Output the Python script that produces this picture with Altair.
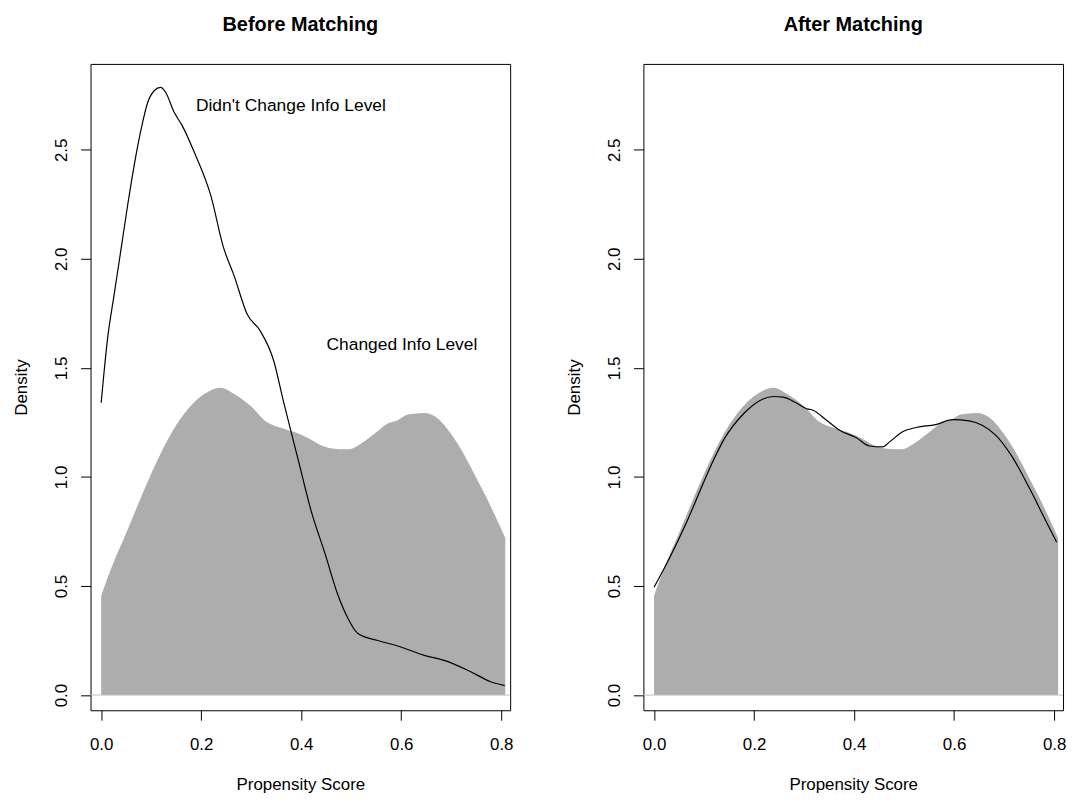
import altair as alt
import pandas as pd

FONT = "Liberation Sans"

# Treated ("Changed Info Level") density, shown as grey area in both panels
gray_x = [0.0, 0.02, 0.053, 0.086, 0.119, 0.152, 0.186, 0.212, 0.239, 0.265,
          0.298, 0.331, 0.364, 0.394, 0.421, 0.434, 0.461, 0.494, 0.520, 0.547,
          0.573, 0.593, 0.613, 0.646, 0.673, 0.699, 0.726, 0.752, 0.779, 0.808]
gray_y = [0.455, 0.58, 0.759, 0.941, 1.108, 1.245, 1.343, 1.389, 1.409, 1.382,
          1.328, 1.252, 1.222, 1.199, 1.169, 1.151, 1.131, 1.127, 1.154, 1.199,
          1.245, 1.260, 1.286, 1.293, 1.268, 1.199, 1.101, 0.987, 0.865, 0.72]

# Control density before matching
before_x = [0.0, 0.013, 0.026, 0.040, 0.053, 0.066, 0.080, 0.093, 0.106, 0.119,
            0.129, 0.146, 0.162, 0.186, 0.219, 0.245, 0.265, 0.292, 0.318, 0.345,
            0.364, 0.394, 0.421, 0.447, 0.474, 0.494, 0.514, 0.553, 0.593, 0.646,
            0.686, 0.739, 0.779, 0.807]
before_y = [1.34, 1.639, 1.837, 2.049, 2.247, 2.429, 2.596, 2.717, 2.771, 2.786,
            2.763, 2.672, 2.611, 2.490, 2.292, 2.049, 1.928, 1.746, 1.670, 1.533,
            1.351, 1.078, 0.835, 0.653, 0.455, 0.349, 0.281, 0.250, 0.225, 0.182,
            0.159, 0.107, 0.061, 0.043]

# Control density after matching
after_x = [0.0, 0.033, 0.066, 0.099, 0.119, 0.139, 0.179, 0.212, 0.239, 0.258,
           0.285, 0.305, 0.318, 0.345, 0.371, 0.404, 0.431, 0.457, 0.471, 0.497,
           0.524, 0.563, 0.597, 0.630, 0.656, 0.683, 0.716, 0.749, 0.782, 0.805]
after_y = [0.494, 0.638, 0.797, 0.975, 1.078, 1.169, 1.290, 1.351, 1.369, 1.366,
           1.339, 1.313, 1.306, 1.260, 1.214, 1.181, 1.142, 1.138, 1.161, 1.207,
           1.227, 1.240, 1.263, 1.257, 1.237, 1.192, 1.093, 0.956, 0.805, 0.701]

label_text = ["Didn't Change Info Level", "Changed Info Level"]
label_x = [0.1895, 0.4506]
label_y = [2.702, 1.605]

x_ticks = [0.0, 0.2, 0.4, 0.6, 0.8]
y_ticks = [0.0, 0.5, 1.0, 1.5, 2.0, 2.5]

W = 422
H = 650


def panel(title, lx, ly, with_labels):
    xs = alt.Scale(domain=[-0.02128, 0.8178], nice=False, zero=False)
    ys = alt.Scale(domain=[-0.0697, 2.894], nice=False, zero=False)
    xaxis = alt.Axis(values=x_ticks, format=".1f", title="Propensity Score",
                     grid=False, domain=False, tickSize=10, tickColor="black",
                     labelFontSize=17, labelFont=FONT, labelColor="black",
                     labelPadding=16, labelFlush=False,
                     titleFontSize=17, titleFont=FONT, titleFontWeight="normal",
                     titleColor="black", titlePadding=25)
    yaxis = alt.Axis(values=y_ticks, format=".1f", title="Density",
                     grid=False, domain=False, tickSize=10, tickColor="black",
                     labelFontSize=17, labelFont=FONT, labelColor="black",
                     labelAngle=-90, labelPadding=10, labelFlush=False,
                     titleFontSize=17, titleFont=FONT, titleFontWeight="normal",
                     titleColor="black", titlePadding=22.5)
    gdf = pd.DataFrame({"x": gray_x, "y": gray_y})
    ldf = pd.DataFrame({"x": lx, "y": ly})
    area = alt.Chart(gdf).mark_area(color="#ADADAD", interpolate="monotone").encode(
        x=alt.X("x:Q", scale=xs, axis=xaxis),
        y=alt.Y("y:Q", scale=ys, axis=yaxis),
    )
    base = alt.Chart(pd.DataFrame({"y": [0.0]})).mark_rule(
        color="#BEBEBE", strokeWidth=1).encode(y="y:Q")
    line = alt.Chart(ldf).mark_line(color="black", strokeWidth=1.2,
                                    interpolate="monotone").encode(x="x:Q", y="y:Q")
    layers = [area, base, line]
    if with_labels:
        tdf = pd.DataFrame({"x": label_x, "y": label_y, "t": label_text})
        txt = alt.Chart(tdf).mark_text(align="left", baseline="middle", fontSize=17.5,
                                       font=FONT, color="black").encode(
            x="x:Q", y="y:Q", text="t:N")
        layers.append(txt)
    return alt.layer(*layers).properties(
        width=W, height=H,
        title=alt.TitleParams(title, fontSize=20, font=FONT, fontWeight="bold",
                              anchor="middle", color="black", offset=29),
    )


left = panel("Before Matching", before_x, before_y, True)
right = panel("After Matching", after_x, after_y, False)

chart = alt.hconcat(left, right, spacing=51).properties(
    padding={"left": 4, "top": 4, "right": 0, "bottom": 0},
    background="white",
).configure_view(stroke="black", strokeWidth=1)

chart.save("out.html", embed_options={"renderer": "svg", "actions": False})
